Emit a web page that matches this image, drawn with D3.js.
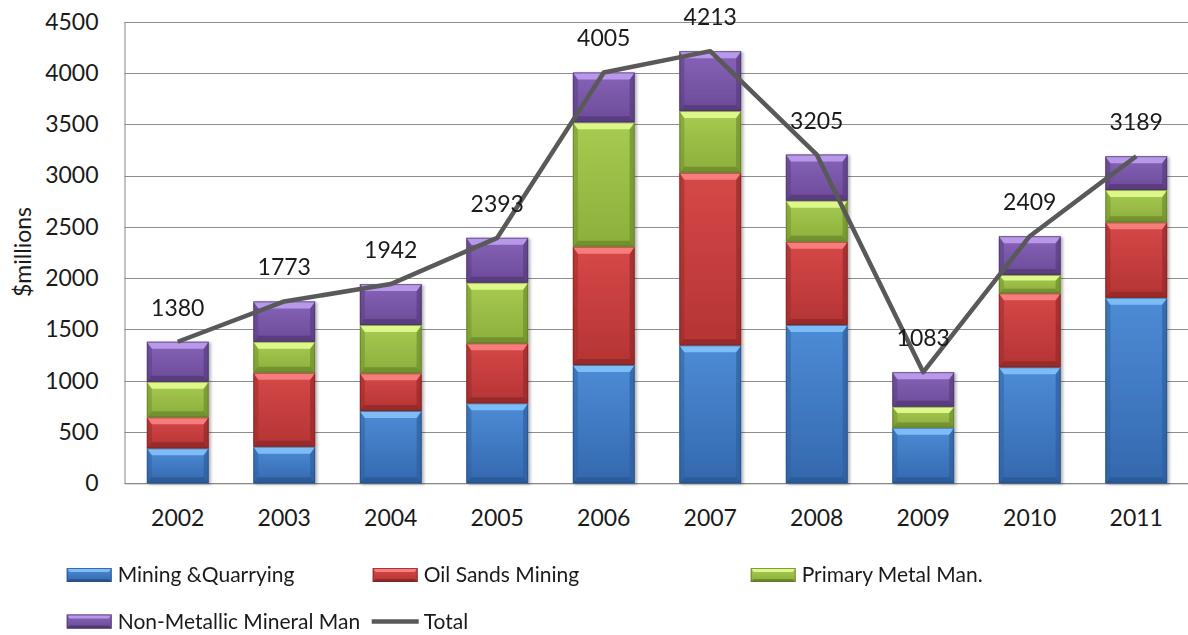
<!DOCTYPE html>
<html>
<head>
<meta charset="utf-8">
<script src="https://cdn.jsdelivr.net/npm/d3@7"></script>
<style>
  html, body { margin: 0; padding: 0; background: #ffffff; }
  svg { display: block; }
  text { font-family: Lato, "Open Sans", "Liberation Sans", sans-serif; fill: #1a1a1a; }
</style>
</head>
<body>
<svg id="chart" width="1188" height="635"></svg>
<script>
// Investment by industry, $ millions
const years = ["2002", "2003", "2004", "2005", "2006", "2007", "2008", "2009", "2010", "2011"];
const miningQuarrying = [341, 357, 705, 780, 1153, 1345, 1543, 542, 1131, 1809];
const oilSandsMining   = [302, 721, 367, 585, 1154, 1683, 812, 0, 721, 735];
const primaryMetal     = [347, 302, 471, 591, 1212, 601, 400, 205, 179, 315];
const nonMetallic      = [390, 393, 399, 437, 486, 584, 450, 336, 378, 330];
const totals           = [1380, 1773, 1942, 2393, 4005, 4213, 3205, 1083, 2409, 3189];
const seriesNames = ["Mining &Quarrying", "Oil Sands Mining", "Primary Metal Man.", "Non-Metallic Mineral Man"];
const totalName = "Total";
const yTicks = [0, 500, 1000, 1500, 2000, 2500, 3000, 3500, 4000, 4500];

// Bevel palettes per series: face top/bottom, top highlight, side shade, bottom shade, outline
const palettes = [
  { faceTop: "#4d8cd6", faceBot: "#3468ae", hi: "#7dbcf6", side: "#2f5f9e", low: "#27518a", edge: "#25497a" },
  { faceTop: "#d64848", faceBot: "#b53434", hi: "#f77d7d", side: "#962a2a", low: "#842424", edge: "#7a2020" },
  { faceTop: "#a8cb52", faceBot: "#8cae3c", hi: "#ddf78a", side: "#6f8f2c", low: "#617d26", edge: "#5a7322" },
  { faceTop: "#8763b8", faceBot: "#6c4b98", hi: "#b898e8", side: "#583d80", low: "#4c346e", edge: "#45305f" }
];

const svg = d3.select("#chart");
const plot = { left: 124.5, right: 1189.5, top: 21.7, bottom: 483.3 };

const x = d3.scaleBand().domain(years)
  .range([plot.left, plot.right])
  .paddingInner(0.42).paddingOuter(0.21);
const y = d3.scaleLinear().domain([0, 4500]).range([plot.bottom, plot.top]);

const defs = svg.append("defs");
palettes.forEach((p, i) => {
  const g = defs.append("linearGradient").attr("id", "face" + i)
    .attr("x1", 0).attr("y1", 0).attr("x2", 0).attr("y2", 1);
  g.append("stop").attr("offset", "0%").attr("stop-color", p.faceTop);
  g.append("stop").attr("offset", "100%").attr("stop-color", p.faceBot);
});
const shadow = defs.append("filter").attr("id", "barShadow")
  .attr("x", "-10%").attr("y", "-5%").attr("width", "130%").attr("height", "115%");
shadow.append("feDropShadow").attr("dx", 2).attr("dy", 1).attr("stdDeviation", 1.6)
  .attr("flood-color", "#000").attr("flood-opacity", 0.3);

// Gridlines
svg.append("g").selectAll("line").data(yTicks).join("line")
  .attr("x1", plot.left).attr("x2", plot.right)
  .attr("y1", d => Math.round(y(d)) + 0.5).attr("y2", d => Math.round(y(d)) + 0.5)
  .attr("stroke", "#8e8e8e").attr("stroke-width", 1);

// Y axis
const yAxis = d3.axisLeft(y).tickValues(yTicks).tickFormat(d3.format("d")).tickSize(0).tickPadding(26);
const gy = svg.append("g").attr("transform", `translate(${plot.left},0)`).call(yAxis);
gy.select(".domain").attr("stroke", "#868686");
gy.selectAll("text").style("font-size", "23px").attr("fill", "#1a1a1a")
  .attr("font-family", "Lato, 'Open Sans', sans-serif");

// X axis
const xAxis = d3.axisBottom(x).tickSize(0).tickPadding(26);
const gx = svg.append("g").attr("transform", `translate(0,${plot.bottom})`).call(xAxis);
gx.select(".domain").attr("stroke", "#868686");
gx.selectAll("text").style("font-size", "23px").attr("fill", "#1a1a1a")
  .attr("font-family", "Lato, 'Open Sans', sans-serif");

// Y title
svg.append("text")
  .attr("transform", `translate(31,252) rotate(-90)`)
  .attr("text-anchor", "middle")
  .style("font-size", "23px")
  .text("$millions");

// Stacked bars with bevelled segments
const rows = years.map((yr, i) => ({
  year: yr, s0: miningQuarrying[i], s1: oilSandsMining[i], s2: primaryMetal[i], s3: nonMetallic[i]
}));
const stack = d3.stack().keys(["s0", "s1", "s2", "s3"]);
const stacked = stack(rows);

function bevelSegment(g, x0, x1, y0, y1, p, idx) {
  const h = y1 - y0;
  if (h <= 0.5) return;
  const bt = Math.min(7, h * 0.3), bb = Math.min(6, h * 0.25), bs = 5;
  g.append("rect").attr("x", x0).attr("y", y0).attr("width", x1 - x0).attr("height", h)
    .attr("fill", `url(#face${idx})`);
  // left & right shading
  g.append("polygon").attr("points", [[x0, y0], [x0 + bs, y0 + bt], [x0 + bs, y1 - bb], [x0, y1]].join(" "))
    .attr("fill", p.side).attr("opacity", 0.5);
  g.append("polygon").attr("points", [[x1, y0], [x1 - bs, y0 + bt], [x1 - bs, y1 - bb], [x1, y1]].join(" "))
    .attr("fill", p.side).attr("opacity", 0.7);
  // bottom shading
  g.append("polygon").attr("points", [[x0, y1], [x0 + bs, y1 - bb], [x1 - bs, y1 - bb], [x1, y1]].join(" "))
    .attr("fill", p.low).attr("opacity", 0.6);
  // top highlight
  g.append("polygon").attr("points", [[x0, y0], [x1, y0], [x1 - bs, y0 + bt], [x0 + bs, y0 + bt]].join(" "))
    .attr("fill", p.hi);
  g.append("rect").attr("x", x0 + 0.5).attr("y", y0 + 0.5).attr("width", x1 - x0 - 1).attr("height", h - 1)
    .attr("fill", "none").attr("stroke", p.edge).attr("stroke-width", 1).attr("opacity", 0.6);
}

const barsG = svg.append("g").attr("filter", "url(#barShadow)");
stacked.forEach((layer, li) => {
  layer.forEach(d => {
    const x0 = x(d.data.year), x1 = x0 + x.bandwidth();
    bevelSegment(barsG.append("g"), x0, x1, y(d[1]), y(d[0]), palettes[li], li);
  });
});

// Total line
const cx = yr => x(yr) + x.bandwidth() / 2;
const line = d3.line().x((d, i) => cx(years[i])).y(d => y(d));
svg.append("path").datum(totals).attr("d", line)
  .attr("fill", "none").attr("stroke", "#595959").attr("stroke-width", 4.5)
  .attr("stroke-linejoin", "round");

// Total labels
svg.append("g").selectAll("text").data(totals).join("text")
  .attr("x", (d, i) => cx(years[i]))
  .attr("y", d => y(d) - 26)
  .attr("text-anchor", "middle")
  .style("font-size", "23px")
  .text(d => d);

// Legend
const legendItems = [
  { name: seriesNames[0], type: "bar", idx: 0, col: 66.7, row: 575 },
  { name: seriesNames[1], type: "bar", idx: 1, col: 372.7, row: 575 },
  { name: seriesNames[2], type: "bar", idx: 2, col: 750.7, row: 575 },
  { name: seriesNames[3], type: "bar", idx: 3, col: 66.7, row: 621.5 },
  { name: totalName, type: "line", col: 372.7, row: 621.5 }
];
const lg = svg.append("g");
legendItems.forEach(it => {
  const g = lg.append("g");
  if (it.type === "bar") {
    const p = palettes[it.idx];
    const x0 = it.col, x1 = it.col + 45, y0 = it.row - 7, y1 = it.row + 7;
    g.append("rect").attr("x", x0).attr("y", y0).attr("width", 45).attr("height", 14).attr("fill", `url(#face${it.idx})`);
    g.append("polygon").attr("points", [[x0, y0], [x1, y0], [x1 - 3, y0 + 4], [x0 + 3, y0 + 4]].join(" ")).attr("fill", p.hi);
    g.append("polygon").attr("points", [[x0, y1], [x0 + 3, y1 - 3], [x1 - 3, y1 - 3], [x1, y1]].join(" ")).attr("fill", p.low).attr("opacity", 0.8);
    g.append("rect").attr("x", x0 + 0.5).attr("y", y0 + 0.5).attr("width", 44).attr("height", 13)
      .attr("fill", "none").attr("stroke", p.edge).attr("opacity", 0.7);
  } else {
    g.append("line").attr("x1", it.col - 1).attr("x2", it.col + 46).attr("y1", it.row).attr("y2", it.row)
      .attr("stroke", "#595959").attr("stroke-width", 4.5);
  }
  g.append("text").attr("x", it.col + 51).attr("y", it.row).attr("dy", "0.35em")
    .style("font-size", "21px").text(it.name);
});
</script>
</body>
</html>
